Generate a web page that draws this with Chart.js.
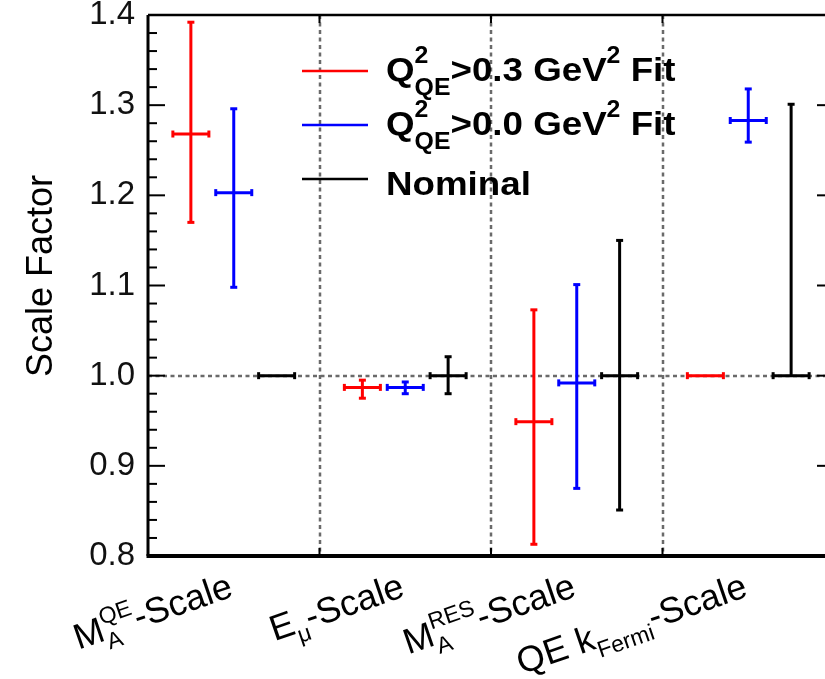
<!DOCTYPE html>
<html>
<head>
<meta charset="utf-8">
<script src="https://cdn.jsdelivr.net/npm/chart.js@4.4.0/dist/chart.umd.min.js"></script>
<style>
html, body { margin: 0; padding: 0; background: #fff; overflow: hidden; }
canvas { display: block; }
</style>
</head>
<body>
<canvas id="scaleChart" width="850" height="679"></canvas>
<script>
//data

//categories (plain names) and the rich label pieces used to draw them
const categories = ['MA QE-Scale', 'Emu-Scale', 'MA RES-Scale', 'QE kFermi-Scale'];
const categoryLabels = [
	[{t:'M'}, {sup:'QE', sub:'A'}, {t:'-Scale'}],
	[{t:'E'}, {sub:'\u03bc'}, {t:'-Scale'}],
	[{t:'M'}, {sup:'RES', sub:'A'}, {t:'-Scale'}],
	[{t:'QE k'}, {sub:'Fermi'}, {t:'-Scale'}]
];

//Q2 > 0.3 GeV2 fit
const redVal      = [1.268, 0.987, 0.949, 1.000];
const redErrDown  = [0.098, 0.012, 0.136, 0];
const redErrUp    = [0.124, 0.008, 0.124, 0];

//Q2 > 0.0 GeV2 fit
const blueVal     = [1.203, 0.987, 0.992, 1.283];
const blueErrDown = [0.105, 0.007, 0.117, 0.024];
const blueErrUp   = [0.093, 0.006, 0.109, 0.035];

//nominal
const nomVal      = [1.000, 1.000, 1.000, 1.000];
const nomErrDown  = [0, 0.020, 0.149, 0];
const nomErrUp    = [0, 0.021, 0.150, 0.301];

//horizontal half width of every cross (x units, one category = 1)
const xHalfWidth = 0.105;

//y axis
const yMin = 0.8;
const yMax = 1.4;
const yStep = 0.1;
const yMinorStep = 0.02;

////////////////////////////////////////////////////////////
//styling helpers

const FONT = '"Liberation Sans", Arial, Helvetica, sans-serif';
const slotOffsets = [0.25, 0.5, 0.75]; //where red, blue, black sit inside a category

//width of a run of text with sub/superscripts
function richWidth(ctx, parts, o){
	let w = 0;
	parts.forEach(function(p){
		if(p.t){
			ctx.font = o.weight + ' ' + o.size + 'px ' + FONT;
			w += ctx.measureText(p.t).width;
		}else{
			ctx.font = o.weight + ' ' + o.small + 'px ' + FONT;
			const a = p.sup ? ctx.measureText(p.sup).width : 0;
			const b = p.sub ? ctx.measureText(p.sub).width : 0;
			w += Math.max(a, b);
		}
	});
	return w;
}

//draws text with stacked sub/superscripts, optionally rotated / stretched
function drawRich(ctx, parts, x, y, o){
	ctx.save();
	ctx.translate(x, y);
	ctx.rotate(o.angle || 0);
	ctx.scale(o.stretch || 1, 1);
	ctx.fillStyle = o.color || '#000';
	ctx.textAlign = 'left';
	ctx.textBaseline = 'alphabetic';
	let cx = o.align === 'right' ? -richWidth(ctx, parts, o) : 0;
	parts.forEach(function(p){
		if(p.t){
			ctx.font = o.weight + ' ' + o.size + 'px ' + FONT;
			ctx.fillText(p.t, cx, 0);
			cx += ctx.measureText(p.t).width;
		}else{
			ctx.font = o.weight + ' ' + o.small + 'px ' + FONT;
			let w = 0;
			if(p.sup){ ctx.fillText(p.sup, cx, -o.supShift); w = ctx.measureText(p.sup).width; }
			if(p.sub){ ctx.fillText(p.sub, cx, o.subShift); w = Math.max(w, ctx.measureText(p.sub).width); }
			cx += w;
		}
	});
	ctx.restore();
}

function line(ctx, x1, y1, x2, y2){
	ctx.beginPath();
	ctx.moveTo(x1, y1);
	ctx.lineTo(x2, y2);
	ctx.stroke();
}

//dashed guide lines behind the points
const guidesPlugin = {
	id: 'guides',
	beforeDatasetsDraw(chart){
		const ctx = chart.ctx, a = chart.chartArea;
		const xs = chart.scales.x, ys = chart.scales.y;
		ctx.save();
		ctx.strokeStyle = '#6a6a6a';
		ctx.lineWidth = 2.5;
		ctx.setLineDash([4, 3.5]);
		for(let i = 1; i < categories.length; i++){
			const px = Math.round(xs.getPixelForValue(i));
			line(ctx, px, a.top, px, a.bottom);
		}
		const py = Math.round(ys.getPixelForValue(1.0));
		line(ctx, a.left, py, a.right, py);
		ctx.restore();
	}
};

//error bar crosses, drawn from the datasets through the scales
const errorBarPlugin = {
	id: 'errorBars',
	afterDatasetsDraw(chart){
		const ctx = chart.ctx;
		const xs = chart.scales.x, ys = chart.scales.y;
		const cap = 3.5;
		ctx.save();
		ctx.lineWidth = 3;
		ctx.lineCap = 'butt';
		chart.data.datasets.forEach(function(ds){
			ctx.strokeStyle = ds.borderColor;
			ds.data.forEach(function(pt, i){
				const px = xs.getPixelForValue(pt.x);
				const py = ys.getPixelForValue(pt.y);
				const xl = xs.getPixelForValue(pt.x - xHalfWidth);
				const xr = xs.getPixelForValue(pt.x + xHalfWidth);
				//horizontal bar with end caps
				line(ctx, xl, py, xr, py);
				line(ctx, xl, py - cap, xl, py + cap);
				line(ctx, xr, py - cap, xr, py + cap);
				//vertical bar
				const up = ds.errUp[i], down = ds.errDown[i];
				if(up > 0 || down > 0){
					const yt = ys.getPixelForValue(pt.y + up);
					const yb = ys.getPixelForValue(pt.y - down);
					line(ctx, px, yt, px, yb);
					if(up > 0) line(ctx, px - cap, yt, px + cap, yt);
					if(down > 0) line(ctx, px - cap, yb, px + cap, yb);
				}
			});
		});
		ctx.restore();
	}
};

//frame, inward ticks, legend, rotated labels and the y title
const framePlugin = {
	id: 'frame',
	afterDraw(chart){
		const ctx = chart.ctx, a = chart.chartArea;
		const xs = chart.scales.x, ys = chart.scales.y;
		ctx.save();
		ctx.strokeStyle = '#000';

		//ticks on left and right axes
		ctx.lineWidth = 2;
		const n = Math.round((yMax - yMin) / yMinorStep);
		for(let k = 0; k <= n; k++){
			const py = ys.getPixelForValue(yMin + k * yMinorStep);
			const len = (k % 5 === 0) ? 17 : 9;
			line(ctx, a.left, py, a.left + len, py);
			line(ctx, a.right, py, a.right - len, py);
		}
		//small ticks at the category borders
		for(let i = 1; i < categories.length; i++){
			const px = xs.getPixelForValue(i);
			line(ctx, px, a.bottom, px, a.bottom - 8);
			line(ctx, px, a.top, px, a.top + 8);
		}

		//frame
		ctx.lineWidth = 3;
		line(ctx, a.left, a.top, a.left, a.bottom);
		line(ctx, a.right, a.top, a.right, a.bottom);
		ctx.lineWidth = 2.5;
		line(ctx, a.left, a.top, a.right, a.top);
		ctx.lineWidth = 4;
		line(ctx, a.left - 1.5, a.bottom, a.right + 1.5, a.bottom);

		//legend
		const legendRows = [
			{color:'#ff0000', y:71, base:81, parts:[{t:'Q'}, {sup:'2', sub:'QE'}, {t:'>0.3 GeV'}, {sup:'2'}, {t:' Fit'}]},
			{color:'#0000ff', y:125, base:135, parts:[{t:'Q'}, {sup:'2', sub:'QE'}, {t:'>0.0 GeV'}, {sup:'2'}, {t:' Fit'}]},
			{color:'#000000', y:179, base:195, parts:[{t:'Nominal'}]}
		];
		legendRows.forEach(function(r){
			ctx.strokeStyle = r.color;
			ctx.lineWidth = 2.5;
			line(ctx, 302, r.y, 368, r.y);
			drawRich(ctx, r.parts, 386, r.base, {size:34, small:23, weight:'bold', supShift:18, subShift:14,
				color:'#000', stretch:1.08});
		});

		//category labels, slanted
		categoryLabels.forEach(function(parts, i){
			const px = xs.getPixelForValue(i + 0.5);
			drawRich(ctx, parts, px + 1, 596, {size:36, small:23, weight:'normal', supShift:16, subShift:10,
				color:'#000', angle:-19 * Math.PI / 180, align:'right'});
		});

		//y title
		ctx.save();
		ctx.translate(52, 276);
		ctx.rotate(-Math.PI / 2);
		ctx.font = 'normal 36px ' + FONT;
		ctx.fillStyle = '#000';
		ctx.textAlign = 'center';
		ctx.textBaseline = 'alphabetic';
		ctx.fillText('Scale Factor', 0, 0);
		ctx.restore();

		ctx.restore();
	}
};

////////////////////////////////////////////////////////////
//chart

function makePoints(vals, slot){
	return vals.map(function(v, i){ return {x: i + slotOffsets[slot], y: v}; });
}

const ctx = document.getElementById('scaleChart');

const scaleChart = new Chart(ctx, {
	type: 'scatter',
	data: {
		datasets: [{
			label: 'Q2QE>0.3 GeV2 Fit',
			data: makePoints(redVal, 0),
			errDown: redErrDown,
			errUp: redErrUp,
			borderColor: '#ff0000',
			backgroundColor: '#ff0000',
			pointRadius: 0
		},{
			label: 'Q2QE>0.0 GeV2 Fit',
			data: makePoints(blueVal, 1),
			errDown: blueErrDown,
			errUp: blueErrUp,
			borderColor: '#0000ff',
			backgroundColor: '#0000ff',
			pointRadius: 0
		},{
			label: 'Nominal',
			data: makePoints(nomVal, 2),
			errDown: nomErrDown,
			errUp: nomErrUp,
			borderColor: '#000000',
			backgroundColor: '#000000',
			pointRadius: 0
		}]
	},
	options: {
		responsive: false,
		animation: false,
		devicePixelRatio: 1,
		layout: { padding: { top: 15, bottom: 123, right: 16, left: 0 } },
		plugins: {
			legend: { display: false },
			tooltip: { enabled: false }
		},
		scales: {
			x: {
				type: 'linear',
				min: 0,
				max: categories.length,
				display: false
			},
			y: {
				min: yMin,
				max: yMax,
				grid: { display: false, drawTicks: false },
				border: { display: false },
				afterFit: function(scale){
					scale.width = 148;
					scale.paddingTop = 0;
					scale.paddingBottom = 0;
				},
				ticks: {
					stepSize: yStep,
					padding: 13,
					color: '#111',
					font: { family: FONT, size: 33 },
					callback: function(v){ return v.toFixed(1); }
				}
			}
		}
	},
	plugins: [guidesPlugin, errorBarPlugin, framePlugin]
});
</script>
</body>
</html>
